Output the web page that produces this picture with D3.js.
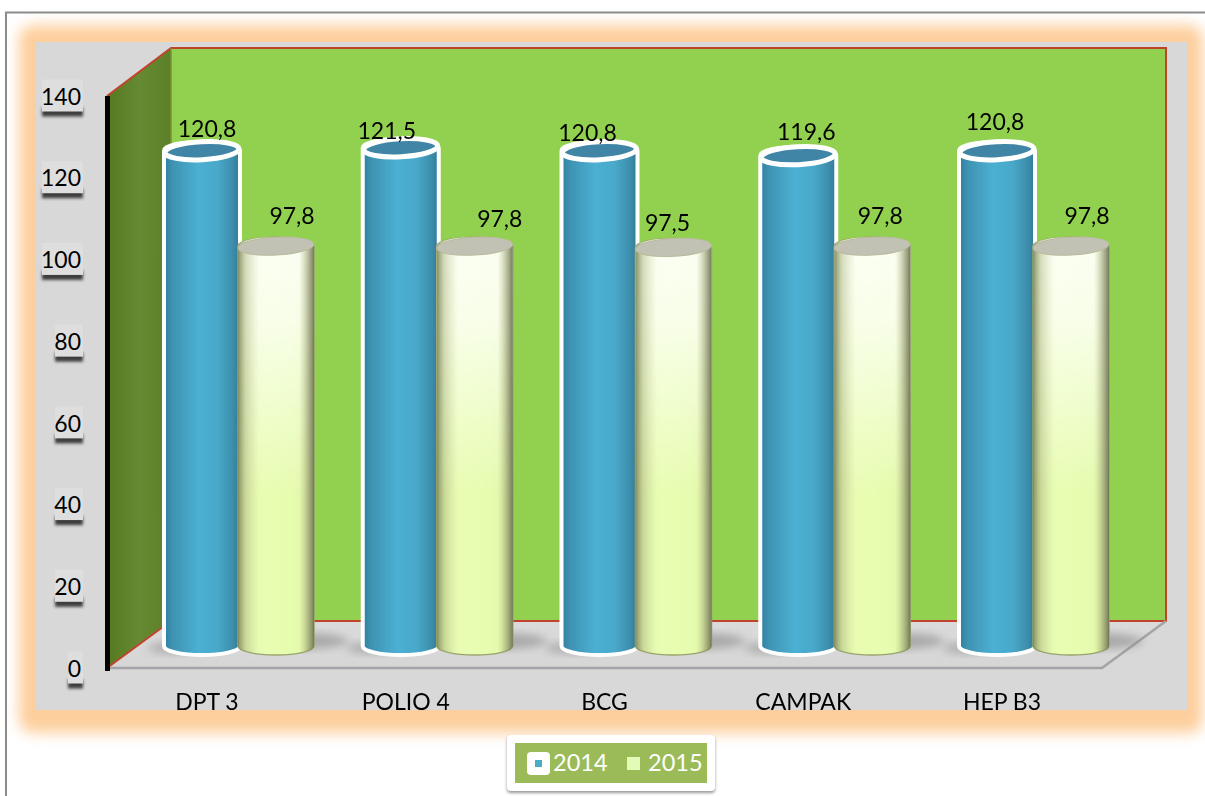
<!DOCTYPE html>
<html><head><meta charset="utf-8">
<script src="https://cdn.jsdelivr.net/npm/d3@7/dist/d3.min.js"></script>
<style>html,body{margin:0;padding:0;background:#fff;overflow:hidden}svg{display:block}text{font-family:Lato,"Open Sans",sans-serif}</style>
</head><body><svg id="c" width="1205" height="796"></svg>
<script>
const categories = ["DPT 3","POLIO 4","BCG","CAMPAK","HEP B3"];
const seriesNames = ["2014","2015"];
const values2014 = [120.8,121.5,120.8,119.6,120.8];
const values2015 = [97.8,97.8,97.5,97.8,97.8];
const axisTicks = [0,20,40,60,80,100,120,140];
// label nudges seen in the reference (dx, dy from the cylinder top)
const nudge2014 = [[5,-14],[-14,-9],[-12,-10],[8,-16],[-2,-21]];
const nudge2015 = [[16,-22],[25,-19],[-6,-16],[8,-22],[16,-22]];

const svg = d3.select("#c");
const defs = svg.append("defs");
const fmt = d3.formatLocale({decimal:",",thousands:".",grouping:[3],currency:["",""]}).format(".1f");

function grad(id, stops, vertical){
  const g = defs.append("linearGradient").attr("id",id).attr("x1",0).attr("y1",0)
    .attr("x2",vertical?0:1).attr("y2",vertical?1:0);
  stops.forEach(s=>g.append("stop").attr("offset",s[0]).attr("stop-color",s[1]).attr("stop-opacity",s[2]===undefined?1:s[2]));
}
function blur(id,sd){
  defs.append("filter").attr("id",id).attr("x","-30%").attr("y","-30%").attr("width","160%").attr("height","160%")
    .append("feGaussianBlur").attr("stdDeviation",sd);
}
blur("b7",7); blur("b4",4); blur("b2",1.6); blur("b1",0.6);
grad("blue",[[0,"#2f7f9f"],[0.12,"#3f93b3"],[0.45,"#4bb0d2"],[0.7,"#49a9ca"],[0.9,"#3d8eac"],[1,"#2f7a98"]]);
grad("yelBase",[[0,"#e4f7ae"],[0.35,"#e8fdb2"],[0.7,"#e6fcae"],[1,"#e2f5aa"]]);
grad("yelSide",[[0,"#7f8a5c",0.95],[0.1,"#a3ad78",0.45],[0.28,"#c0cc90",0],[0.8,"#b8c48a",0],[0.92,"#8e9468",0.6],[1,"#6f7355",0.95]]);
grad("wash",[[0,"#ffffff",0.85],[0.2,"#ffffff",0.72],[0.62,"#ffffff",0]],true);
grad("wall",[[0,"#55791f"],[0.5,"#658a33"],[1,"#5c8027"]]);
grad("floor",[[0,"#dadada"],[1,"#d6d6d6"]],true);

// outer frame and glow
svg.append("rect").attr("x",19).attr("y",25).attr("width",1184).attr("height",708).attr("rx",14).attr("fill","#fdcf9d").attr("filter","url(#b7)");
svg.append("path").attr("d","M6,796V12.5H1205").attr("fill","none").attr("stroke","#8c8c8c").attr("stroke-width",2);
svg.append("rect").attr("x",36).attr("y",42).attr("width",1152).attr("height",668).attr("fill","#d8d8d8");

// scales
const yFront = d3.scaleLinear().domain([0,140]).range([668,96]);
const yBar = d3.scaleLinear().domain([0,140]).range([652,71]);
const x0 = d3.scalePoint().domain(categories).range([207,1002]);
const barOffset = {s2014:-5, s2015:69};
const rx = 38, ry = 9, baseLift = 6;

// walls
svg.append("path").attr("d","M171,48H1166V621H171Z").attr("fill","#92d14f");
svg.append("path").attr("d","M107,96L171,48V620L107,668Z").attr("fill","url(#wall)");
svg.append("path").attr("d","M107,668L171,621H1166L1102,668Z").attr("fill","url(#floor)");
svg.append("path").attr("d","M107,96L171,48H1166V621H171L107,668").attr("fill","none").attr("stroke","#c2432c").attr("stroke-width",2);
svg.append("line").attr("x1",171).attr("x2",171).attr("y1",48).attr("y2",620).attr("stroke","#7f8f3a").attr("stroke-width",1.5);
svg.append("path").attr("d","M107,668H1102L1166,621").attr("fill","none").attr("stroke","#a3a3a8").attr("stroke-width",2.5);
svg.append("line").attr("x1",107.5).attr("x2",107.5).attr("y1",96).attr("y2",671).attr("stroke","#000").attr("stroke-width",5);

// axis
const axis = d3.axisLeft(yFront).tickValues(axisTicks).tickSize(0).tickPadding(26);
const gAxis = svg.append("g").attr("transform","translate(107,0)").call(axis);
gAxis.select(".domain").remove();
gAxis.selectAll("text").attr("font-size",23).attr("fill","#000").style("font-family","Lato").attr("dy","0.36em");
gAxis.selectAll(".tick").each(function(d){
  const t = d3.select(this), w = String(d).length*13+1;
  t.insert("rect","text").attr("x",-25-w).attr("y",11).attr("width",w+1).attr("height",9).attr("fill","#222").attr("opacity",.85).attr("filter","url(#b2)");
  t.insert("rect","text").attr("x",-25-w).attr("y",-17).attr("width",w+1).attr("height",32).attr("fill","#dedede");
});

// cylinders
function cyl(cx, top, bottom){
  return `M${cx-rx},${top}V${bottom}A${rx},${ry} 0 0 0 ${cx+rx},${bottom}V${top}A${rx},${ry} 0 0 0 ${cx-rx},${top}Z`;
}
const rows = categories.map((c,i)=>({c,i,a:values2014[i],b:values2015[i]}));

// floor shadows
const g = svg.append("g");
g.selectAll(".sh").data(rows).join("ellipse").attr("cx",d=>x0(d.c)+barOffset.s2015+22).attr("cy",641).attr("rx",50).attr("ry",8).attr("fill","#8a8a8a").attr("opacity",.6).attr("filter","url(#b4)");
g.selectAll(".sh2").data(rows).join("ellipse").attr("cx",d=>x0(d.c)-35).attr("cy",648).attr("rx",24).attr("ry",6).attr("fill","#8a8a8a").attr("opacity",.5).attr("filter","url(#b4)");

const marks = g.append("g").attr("filter","url(#b1)");
// 2014
const blue = marks.selectAll(".blue").data(rows).join("g").attr("class","blue");
blue.append("path").attr("d",d=>{const c=x0(d.c)+barOffset.s2014;return cyl(c,yBar(d.a),yBar(0)-baseLift);})
  .attr("fill","url(#blue)").attr("stroke","#fff").attr("stroke-width",4);
blue.append("ellipse").attr("cx",d=>x0(d.c)+barOffset.s2014).attr("cy",d=>yBar(d.a)).attr("rx",rx-1).attr("ry",ry)
  .attr("transform",d=>`rotate(-3 ${x0(d.c)+barOffset.s2014} ${yBar(d.a)})`)
  .attr("fill","#4185a5").attr("stroke","#fff").attr("stroke-width",5);

// 2015
const yel = marks.selectAll(".yel").data(rows).join("g").attr("class","yel");
const yelPath = d=>{const c=x0(d.c)+barOffset.s2015;return cyl(c,yBar(d.b),yBar(0)-baseLift);};
yel.append("path").attr("d",yelPath).attr("fill","url(#yelBase)").attr("stroke","#98a46c").attr("stroke-width",1.5);
yel.append("path").attr("d",yelPath).attr("fill","url(#wash)");
yel.append("path").attr("d",yelPath).attr("fill","url(#yelSide)");
yel.append("ellipse").attr("cx",d=>x0(d.c)+barOffset.s2015).attr("cy",d=>yBar(d.b)).attr("rx",rx).attr("ry",ry)
  .attr("transform",d=>`rotate(-3 ${x0(d.c)+barOffset.s2015} ${yBar(d.b)})`)
  .attr("fill","#c2c2b4").attr("stroke","#b9bb9c").attr("stroke-width",1);

// data labels
const lab = svg.append("g").attr("font-size",23).attr("fill","#000").attr("text-anchor","middle");
lab.selectAll(".a").data(rows).join("text").attr("x",d=>x0(d.c)+nudge2014[d.i][0]-5).attr("y",d=>yBar(d.a)+nudge2014[d.i][1]).text(d=>fmt(d.a));
lab.selectAll(".b").data(rows).join("text").attr("x",d=>x0(d.c)+barOffset.s2015+nudge2015[d.i][0]).attr("y",d=>yBar(d.b)+nudge2015[d.i][1]).text(d=>fmt(d.b));

// categories
svg.append("g").attr("font-size",23).attr("fill","#000").attr("text-anchor","middle")
  .selectAll("text").data(categories).join("text").attr("x",d=>x0(d)).attr("y",710).text(d=>d);

// legend
const lg = svg.append("g");
lg.append("rect").attr("x",507).attr("y",737).attr("width",208).attr("height",56).attr("rx",4).attr("fill","#555").attr("opacity",.6).attr("filter","url(#b2)");
lg.append("rect").attr("x",507).attr("y",735).attr("width",208).attr("height",56).attr("rx",4).attr("fill","#fff");
lg.append("rect").attr("x",515).attr("y",743).attr("width",192).attr("height",40).attr("fill","#9bbb59");
lg.append("rect").attr("x",527).attr("y",752).attr("width",23).attr("height",23).attr("rx",4).attr("fill","#fff");
lg.append("rect").attr("x",535).attr("y",760).attr("width",7).attr("height",7).attr("fill","#4bacc6");
lg.append("rect").attr("x",627).attr("y",757).attr("width",13).attr("height",13).attr("fill","#e4fbb8");
lg.selectAll("text").data(seriesNames).join("text").attr("x",(d,i)=>[553,648][i]).attr("y",771).attr("font-size",23.5).attr("fill","#fff").text(d=>d);
</script></body></html>
